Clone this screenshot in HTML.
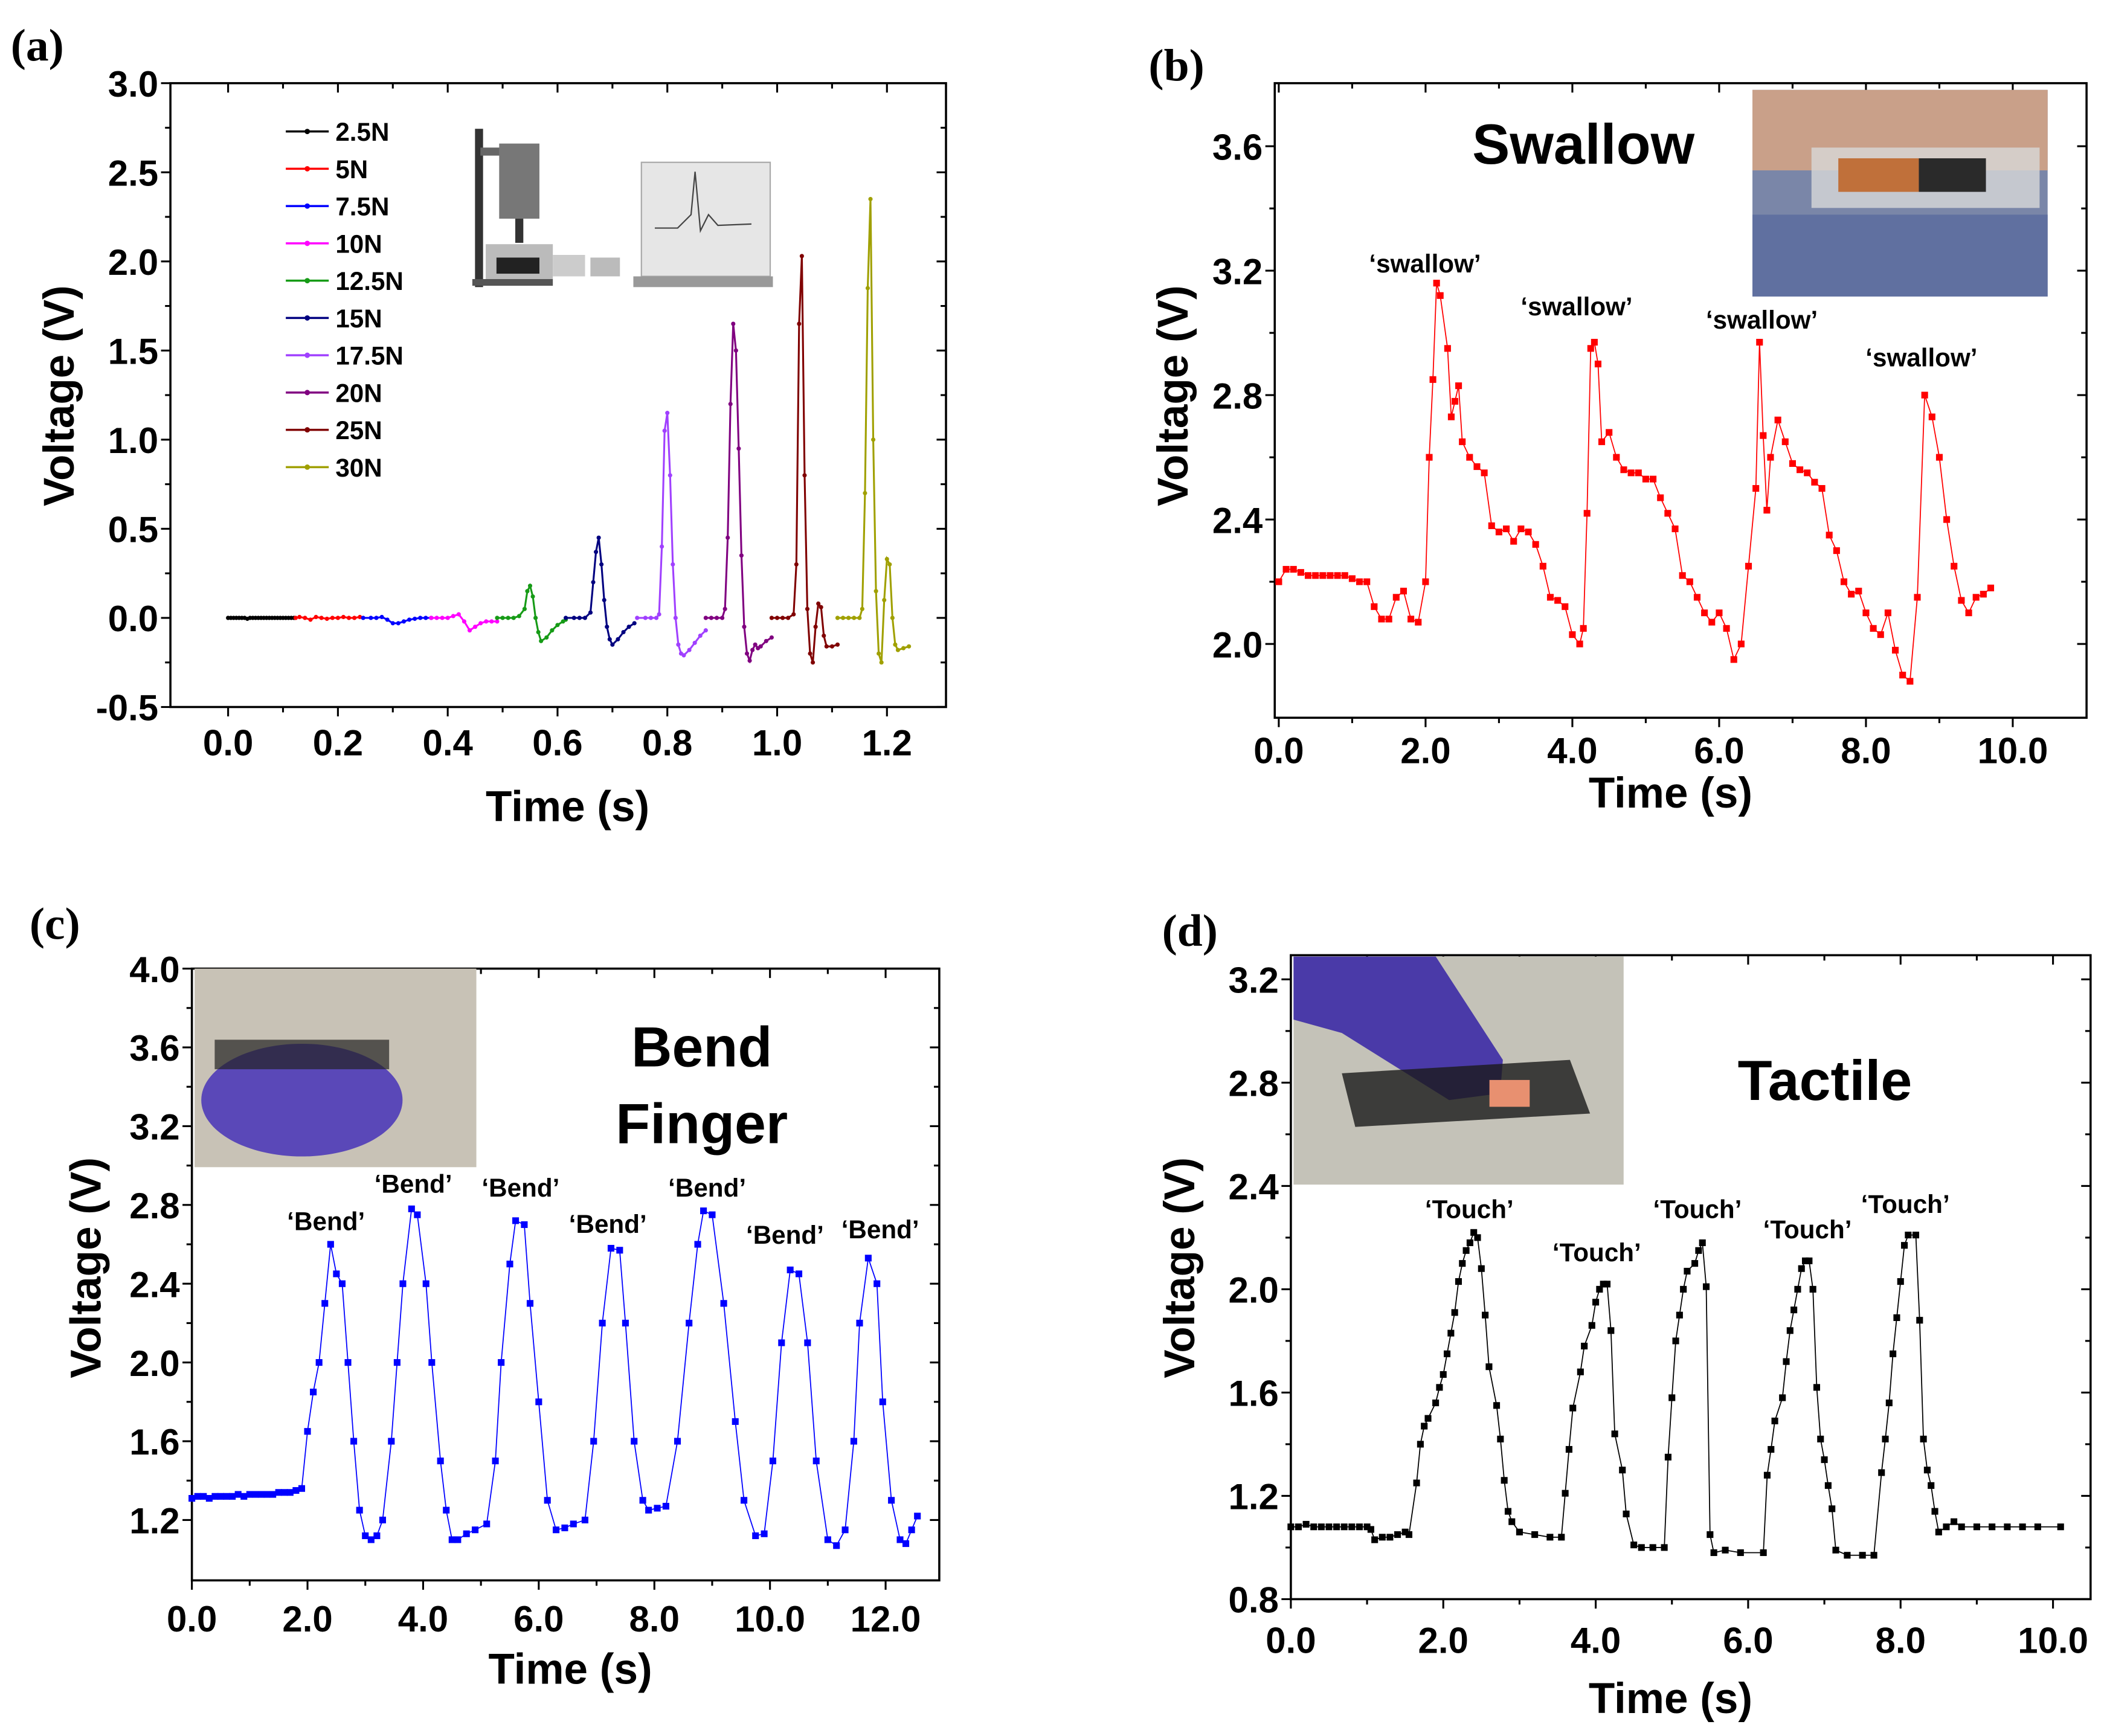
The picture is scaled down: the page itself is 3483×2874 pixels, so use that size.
<!DOCTYPE html>
<html><head><meta charset="utf-8">
<style>
html,body{margin:0;padding:0;background:#fff;}
svg{display:block;}
text{font-family:"Liberation Sans",Arial,sans-serif;font-weight:bold;fill:#000;}
.pl{font-family:"Liberation Serif",serif;font-size:34px;}
.tk{font-size:27px;}
.ti{font-size:32px;}
.an{font-size:19px;}
</style></head>
<body>
<svg id="fig" width="3483" height="2874" viewBox="0 0 1568 1294" preserveAspectRatio="none" xmlns="http://www.w3.org/2000/svg">
<rect width="1568" height="1294" fill="#fff"/>
<g id="root"></g>
</svg>
<script>
// ---------- Panel (a) data ----------
const aNames = ["2.5N","5N","7.5N","10N","12.5N","15N","17.5N","20N","25N","30N"];
const aColors = ["#000000","#ff0000","#0000ff","#ff00ff","#169b16","#000080","#a040ff","#800080","#800000","#a0a000"];
const aT0 = [0,0.005,0.01,0.015,0.02,0.025,0.03,0.035,0.04,0.045,0.05,0.055,0.06,0.065,0.07,0.075,0.08,0.085,0.09,0.095,0.1,0.105,0.11,0.115,0.12];
const aV0 = [0,0,0,0,0,0,0,-0.005,0,0,0,0,0,0,0,0,0,0,0,0,0,0,0,0,0];
const aT1 = [0.123,0.13,0.14,0.15,0.16,0.17,0.18,0.19,0.2,0.21,0.22,0.23,0.24];
const aV1 = [0,0.005,0,-0.01,0.005,0,-0.005,0,0,0.005,0,0,0.005];
const aT2 = [0.246,0.26,0.27,0.28,0.29,0.3,0.31,0.32,0.33,0.34,0.35,0.36,0.37];
const aV2 = [0,0,0,0.005,-0.01,-0.03,-0.03,-0.02,-0.01,-0.005,0,0,0];
const aT3 = [0.37,0.38,0.39,0.4,0.41,0.42,0.43,0.44,0.45,0.46,0.47,0.48,0.49];
const aV3 = [0,0,0,0,0.01,0.02,-0.02,-0.07,-0.05,-0.03,-0.02,-0.02,-0.02];
const aT4 = [0.49,0.5,0.51,0.52,0.53,0.54,0.545,0.55,0.555,0.56,0.565,0.57,0.58,0.59,0.6,0.61,0.615];
const aV4 = [0,0,0,0,0.01,0.05,0.15,0.18,0.12,0.0,-0.08,-0.13,-0.11,-0.07,-0.04,-0.02,-0.01];
const aT5 = [0.615,0.63,0.64,0.65,0.66,0.665,0.67,0.675,0.68,0.685,0.69,0.695,0.7,0.71,0.72,0.73,0.74];
const aV5 = [0,0,0,0,0.03,0.2,0.37,0.45,0.3,0.1,-0.05,-0.12,-0.15,-0.12,-0.08,-0.05,-0.03];
const aT6 = [0.745,0.76,0.77,0.78,0.785,0.79,0.795,0.8,0.805,0.81,0.815,0.82,0.825,0.83,0.84,0.85,0.86,0.87];
const aV6 = [0,0,0,0,0.02,0.4,1.05,1.15,0.8,0.3,0.0,-0.15,-0.2,-0.21,-0.18,-0.14,-0.1,-0.07];
const aT7 = [0.87,0.88,0.89,0.9,0.905,0.91,0.915,0.92,0.925,0.93,0.935,0.94,0.945,0.95,0.955,0.96,0.965,0.97,0.98,0.99];
const aV7 = [0,0,0,0,0.05,0.45,1.2,1.65,1.5,0.95,0.35,-0.05,-0.2,-0.24,-0.18,-0.15,-0.17,-0.16,-0.13,-0.11];
const aT8 = [0.99,1.0,1.01,1.02,1.03,1.035,1.04,1.045,1.05,1.055,1.06,1.065,1.07,1.075,1.08,1.085,1.09,1.1,1.11];
const aV8 = [0,0,0,0,0.02,0.3,1.65,2.03,0.8,0.05,-0.2,-0.25,-0.05,0.08,0.06,-0.1,-0.16,-0.16,-0.15];
const aT9 = [1.11,1.12,1.13,1.14,1.15,1.155,1.16,1.165,1.17,1.175,1.18,1.185,1.19,1.195,1.2,1.205,1.21,1.215,1.22,1.23,1.24];
const aV9 = [0,0,0,0,0,0.05,0.7,1.85,2.35,1.0,0.15,-0.2,-0.25,0.1,0.33,0.3,0.0,-0.15,-0.18,-0.17,-0.16];
const aTs = [aT0,aT1,aT2,aT3,aT4,aT5,aT6,aT7,aT8,aT9];
const aVs = [aV0,aV1,aV2,aV3,aV4,aV5,aV6,aV7,aV8,aV9];
const aXTicks = ["0.0","0.2","0.4","0.6","0.8","1.0","1.2"];
const aYTicks = ["-0.5","0.0","0.5","1.0","1.5","2.0","2.5","3.0"];

// ---------- Panel (b) data ----------
const bT = [0,0.1,0.2,0.3,0.4,0.5,0.6,0.7,0.8,0.9,1.0,1.1,1.2,1.3,1.4,1.5,1.6,1.7,1.8,1.9,2.0,2.05,2.1,2.15,2.2,2.3,2.35,2.4,2.45,2.5,2.6,2.7,2.8,2.9,3.0,3.1,3.2,3.3,3.4,3.5,3.6,3.7,3.8,3.9,4.0,4.1,4.15,4.2,4.25,4.3,4.35,4.4,4.5,4.6,4.7,4.8,4.9,5.0,5.1,5.2,5.3,5.4,5.5,5.6,5.7,5.8,5.9,6.0,6.1,6.2,6.3,6.4,6.5,6.55,6.6,6.65,6.7,6.8,6.9,7.0,7.1,7.2,7.3,7.4,7.5,7.6,7.7,7.8,7.9,8.0,8.1,8.2,8.3,8.4,8.5,8.6,8.7,8.8,8.9,9.0,9.1,9.2,9.3,9.4,9.5,9.6,9.7];
const bV = [2.2,2.24,2.24,2.23,2.22,2.22,2.22,2.22,2.22,2.22,2.21,2.2,2.2,2.12,2.08,2.08,2.15,2.17,2.08,2.07,2.2,2.6,2.85,3.16,3.12,2.95,2.73,2.78,2.83,2.65,2.6,2.57,2.55,2.38,2.36,2.37,2.33,2.37,2.36,2.32,2.25,2.15,2.14,2.12,2.03,2.0,2.05,2.42,2.95,2.97,2.9,2.65,2.68,2.6,2.56,2.55,2.55,2.53,2.53,2.47,2.42,2.37,2.22,2.2,2.15,2.1,2.07,2.1,2.05,1.95,2.0,2.25,2.5,2.97,2.67,2.43,2.6,2.72,2.65,2.58,2.56,2.55,2.52,2.5,2.35,2.3,2.2,2.16,2.17,2.1,2.05,2.03,2.1,1.98,1.9,1.88,2.15,2.8,2.73,2.6,2.4,2.25,2.14,2.1,2.15,2.16,2.18];
const bXTicks = ["0.0","2.0","4.0","6.0","8.0","10.0"];
const bYTicks = ["2.0","2.4","2.8","3.2","3.6"];

// ---------- Panel (c) data ----------
const cT = [0,0.1,0.2,0.3,0.4,0.5,0.6,0.7,0.8,0.9,1.0,1.1,1.2,1.3,1.4,1.5,1.6,1.7,1.8,1.9,2.0,2.1,2.2,2.3,2.4,2.5,2.6,2.7,2.8,2.9,3.0,3.1,3.2,3.3,3.45,3.55,3.65,3.8,3.9,4.05,4.15,4.3,4.4,4.5,4.6,4.75,4.9,5.1,5.25,5.35,5.5,5.6,5.75,5.85,6.0,6.15,6.3,6.45,6.6,6.8,6.95,7.1,7.25,7.4,7.5,7.65,7.8,7.9,8.05,8.2,8.4,8.6,8.75,8.85,9.0,9.2,9.4,9.55,9.75,9.9,10.05,10.2,10.35,10.5,10.65,10.8,11.0,11.15,11.3,11.45,11.55,11.7,11.85,11.95,12.1,12.25,12.35,12.45,12.55];
const cV = [1.31,1.32,1.32,1.31,1.32,1.32,1.32,1.32,1.33,1.32,1.33,1.33,1.33,1.33,1.33,1.34,1.34,1.34,1.35,1.36,1.65,1.85,2.0,2.3,2.6,2.45,2.4,2.0,1.6,1.25,1.12,1.1,1.12,1.2,1.6,2.0,2.4,2.78,2.75,2.4,2.0,1.5,1.25,1.1,1.1,1.13,1.15,1.18,1.5,2.0,2.5,2.72,2.7,2.3,1.8,1.3,1.15,1.16,1.18,1.2,1.6,2.2,2.58,2.57,2.2,1.6,1.3,1.25,1.26,1.27,1.6,2.2,2.6,2.77,2.75,2.3,1.7,1.3,1.12,1.13,1.5,2.1,2.47,2.45,2.1,1.5,1.1,1.07,1.15,1.6,2.2,2.53,2.4,1.8,1.3,1.1,1.08,1.15,1.22];
const cXTicks = ["0.0","2.0","4.0","6.0","8.0","10.0","12.0"];
const cYTicks = ["1.2","1.6","2.0","2.4","2.8","3.2","3.6","4.0"];

// ---------- Panel (d) data ----------
const dT = [0,0.1,0.2,0.3,0.4,0.5,0.6,0.7,0.8,0.9,1.0,1.05,1.1,1.2,1.3,1.4,1.5,1.55,1.65,1.7,1.75,1.8,1.9,1.95,2.0,2.05,2.1,2.15,2.2,2.25,2.3,2.35,2.4,2.45,2.5,2.55,2.6,2.7,2.75,2.8,2.85,2.9,3.0,3.2,3.4,3.55,3.6,3.65,3.7,3.8,3.85,3.95,4.0,4.05,4.1,4.15,4.2,4.25,4.35,4.4,4.5,4.6,4.75,4.9,4.95,5.0,5.05,5.1,5.15,5.2,5.3,5.35,5.4,5.45,5.5,5.55,5.7,5.9,6.2,6.25,6.3,6.35,6.45,6.5,6.55,6.6,6.65,6.7,6.75,6.8,6.85,6.9,6.95,7.0,7.05,7.1,7.15,7.3,7.5,7.65,7.75,7.8,7.85,7.9,7.95,8.0,8.05,8.1,8.2,8.25,8.3,8.35,8.4,8.45,8.5,8.6,8.7,8.8,9.0,9.2,9.4,9.6,9.8,10.1];
const dV = [1.08,1.08,1.09,1.08,1.08,1.08,1.08,1.08,1.08,1.08,1.08,1.07,1.03,1.04,1.04,1.05,1.06,1.05,1.25,1.4,1.47,1.5,1.56,1.62,1.67,1.75,1.83,1.91,2.03,2.1,2.15,2.18,2.22,2.2,2.08,1.9,1.7,1.55,1.42,1.26,1.14,1.1,1.06,1.05,1.04,1.04,1.21,1.38,1.54,1.68,1.78,1.86,1.95,2.0,2.02,2.02,1.84,1.44,1.3,1.13,1.01,1.0,1.0,1.0,1.35,1.58,1.8,1.9,2.0,2.07,2.1,2.15,2.18,2.01,1.05,0.98,0.99,0.98,0.98,1.28,1.38,1.49,1.58,1.72,1.84,1.92,2.0,2.08,2.11,2.11,2.0,1.62,1.42,1.34,1.24,1.15,0.99,0.97,0.97,0.97,1.29,1.42,1.56,1.75,1.89,2.03,2.17,2.21,2.21,1.88,1.42,1.3,1.24,1.14,1.06,1.08,1.1,1.08,1.08,1.08,1.08,1.08,1.08,1.08];
const dXTicks = ["0.0","2.0","4.0","6.0","8.0","10.0"];
const dYTicks = ["0.8","1.2","1.6","2.0","2.4","2.8","3.2"];

const NS = "http://www.w3.org/2000/svg";
const root = document.getElementById("root");
function mk(tag, attrs, parent, txt){
  const e = document.createElementNS(NS, tag);
  for (const k in attrs) e.setAttribute(k, attrs[k]);
  if (txt !== undefined) e.textContent = txt;
  (parent||root).appendChild(e);
  return e;
}
function scale(d0,d1,p0,p1){ return v => p0 + (v-d0)*(p1-p0)/(d1-d0); }

function panel(cfg){
  const g = mk("g", {});
  
  
  const X = scale(cfg.xd[0], cfg.xd[1], cfg.xp[0], cfg.xp[1]);
  const Y = scale(cfg.yd[0], cfg.yd[1], cfg.yp[0], cfg.yp[1]);
  const b = cfg.box;
  const frame = mk("rect", {x:b[0], y:b[1], width:b[2]-b[0], height:b[3]-b[1], fill:"none", stroke:"#000", "stroke-width":1.6}, g);
  
  
  const ticks = mk("g", {stroke:"#000","stroke-width":1.4}, g);
  
  
  cfg.xt.forEach((lab,i)=>{
    const v = parseFloat(lab), px = X(v);
    mk("line",{x1:px,y1:b[3],x2:px,y2:b[3]+7},ticks);
    mk("line",{x1:px,y1:b[1],x2:px,y2:b[1]+7},ticks);
    const t = mk("text",{x:px,y:b[3]+cfg.xlo,"text-anchor":"middle",class:"tk"},g,lab);
    
    
    if (i < cfg.xt.length-1){
      const mv = (v + parseFloat(cfg.xt[i+1]))/2, mp = X(mv);
      mk("line",{x1:mp,y1:b[3],x2:mp,y2:b[3]+4},ticks);
      mk("line",{x1:mp,y1:b[1],x2:mp,y2:b[1]+4},ticks);
    }
  });
  cfg.yt.forEach((lab,i)=>{
    const v = parseFloat(lab), py = Y(v);
    mk("line",{x1:b[0]-7,y1:py,x2:b[0],y2:py},ticks);
    mk("line",{x1:b[2]-7,y1:py,x2:b[2],y2:py},ticks);
    const t = mk("text",{x:b[0]-9,y:py+10,"text-anchor":"end",class:"tk"},g,lab);
    
    
    if (i < cfg.yt.length-1){
      const mp = Y((v + parseFloat(cfg.yt[i+1]))/2);
      mk("line",{x1:b[0]-4,y1:mp,x2:b[0],y2:mp},ticks);
      mk("line",{x1:b[2]-4,y1:mp,x2:b[2],y2:mp},ticks);
    }
  });
  const xt = mk("text",{x:cfg.xtitle[0],y:cfg.xtitle[1],"text-anchor":"middle",class:"ti"},g,"Time (s)");
  
  
  const yt = mk("text",{x:0,y:0,"text-anchor":"middle",class:"ti",transform:`translate(${cfg.ytitle[0]},${cfg.ytitle[1]}) rotate(-90)`},g,"Voltage (V)");
  
  
  const pl = mk("text",{x:cfg.label[0],y:cfg.label[1],class:"pl"},g,cfg.labelText);
  
  
  return {g,X,Y};
}
function series(p, ts, vs, color, marker, ms, nm){
  const sg = mk("g",{},p.g);
  
  
  const pts = ts.map((t,i)=>p.X(t)+","+p.Y(vs[i])).join(" ");
  mk("polyline",{points:pts,fill:"none",stroke:color,"stroke-width":marker==="sq"?0.8:1.4},sg);
  ts.forEach((t,i)=>{
    let m;
    if (marker==="sq") m = mk("rect",{x:p.X(t)-ms/2,y:p.Y(vs[i])-ms/2,width:ms,height:ms,fill:color},sg);
    else m = mk("circle",{cx:p.X(t),cy:p.Y(vs[i]),r:ms,fill:color},sg);
    
    
  });
}

// Panel a
const pa = panel({name:"panel-a-force-chart", xd:[0,1.2], xp:[170,661], yd:[-0.5,3.0], yp:[527,62], box:[127,62,705,527],
  xt:aXTicks, yt:aYTicks, xlo:36, xtitle:[423,612], ytitle:[55,295], label:[8,45], labelText:"(a)"});
aTs.forEach((ts,i)=>series(pa, ts, aVs[i], aColors[i], "c", 1.6, "series-"+aNames[i]));
const leg = mk("g",{},pa.g);


aNames.forEach((n,i)=>{
  const y = 98 + i*27.8;
  const e = mk("g",{},leg);
  
  
  mk("line",{x1:213,y1:y,x2:245,y2:y,stroke:aColors[i],"stroke-width":1.6},e);
  mk("circle",{cx:229,cy:y,r:2,fill:aColors[i]},e);
  mk("text",{x:250,y:y+7,style:"font-size:19px"},e,n);
});
const ia = mk("g",{},pa.g);


mk("rect",{x:354,y:96,width:6,height:118,fill:"#333"},ia);
mk("rect",{x:352,y:208,width:60,height:5,fill:"#555"},ia);
mk("rect",{x:358,y:110,width:16,height:6,fill:"#666"},ia);
mk("rect",{x:372,y:107,width:30,height:56,fill:"#777"},ia);
mk("rect",{x:384,y:163,width:6,height:18,fill:"#333"},ia);
mk("rect",{x:362,y:182,width:50,height:26,fill:"#bbb"},ia);
mk("rect",{x:370,y:192,width:32,height:12,fill:"#222"},ia);
mk("rect",{x:412,y:190,width:24,height:16,fill:"#ccc"},ia);
mk("rect",{x:440,y:192,width:22,height:14,fill:"#bbb"},ia);
mk("rect",{x:478,y:121,width:96,height:85,fill:"#e6e6e6",stroke:"#aaa"},ia);
mk("polyline",{points:"488,170 505,170 515,160 518,128 522,172 528,160 535,168 560,167",fill:"none",stroke:"#444","stroke-width":1},ia);
mk("rect",{x:472,y:206,width:104,height:8,fill:"#999"},ia);

// Panel b
const pb = panel({name:"panel-b-swallow-chart", xd:[0,10], xp:[953,1500], yd:[2.0,3.6], yp:[480,109], box:[950,62,1555,535],
  xt:bXTicks, yt:bYTicks, xlo:34, xtitle:[1245,602], ytitle:[885,295], label:[856,60], labelText:"(b)"});
series(pb, bT, bV, "#ff0000", "sq", 5, "swallow-series");
const ib = mk("g",{},pb.g);


mk("rect",{x:1306,y:67,width:220,height:154,fill:"#7a86a8"},ib);
mk("rect",{x:1306,y:67,width:220,height:60,fill:"#c9a089"},ib);
mk("rect",{x:1350,y:110,width:170,height:45,fill:"#d8d8d8",opacity:0.8},ib);
mk("rect",{x:1370,y:118,width:60,height:25,fill:"#c0703a"},ib);
mk("rect",{x:1430,y:118,width:50,height:25,fill:"#2a2a2a"},ib);
mk("rect",{x:1306,y:160,width:220,height:61,fill:"#6070a0"},ib);
const tb = mk("text",{x:1180,y:122,"text-anchor":"middle",style:"font-size:42px"},pb.g,"Swallow");


[[1062,203],[1175,235],[1313,245],[1432,273]].forEach(a=>{
  const t = mk("text",{x:a[0],y:a[1],"text-anchor":"middle",class:"an"},pb.g,"‘swallow’");
  
  
});

// Panel c
const pc = panel({name:"panel-c-bend-chart", xd:[0,12], xp:[143,660], yd:[1.2,4.0], yp:[1133,722], box:[143,722,700,1178],
  xt:cXTicks, yt:cYTicks, xlo:38, xtitle:[425,1255], ytitle:[75,945], label:[22,700], labelText:"(c)"});
series(pc, cT, cV, "#0000ff", "sq", 5, "bend-series");
const ic = mk("g",{},pc.g);


mk("rect",{x:145,y:722,width:210,height:148,fill:"#c8c2b6"},ic);
mk("ellipse",{cx:225,cy:820,rx:75,ry:42,fill:"#5a48b8"},ic);
mk("rect",{x:160,y:775,width:130,height:22,fill:"#222",opacity:0.7},ic);
const tc1 = mk("text",{x:523,y:795,"text-anchor":"middle",style:"font-size:42px"},pc.g,"Bend");


const tc2 = mk("text",{x:523,y:852,"text-anchor":"middle",style:"font-size:42px"},pc.g,"Finger");


[[243,917],[308,889],[388,892],[453,919],[527,892],[585,927],[656,923]].forEach(a=>{
  const t = mk("text",{x:a[0],y:a[1],"text-anchor":"middle",class:"an"},pc.g,"‘Bend’");
  
  
});

// Panel d
const pd = panel({name:"panel-d-tactile-chart", xd:[0,10], xp:[962,1530], yd:[0.8,3.2], yp:[1192,730], box:[962,712,1558,1192],
  xt:dXTicks, yt:dYTicks, xlo:40, xtitle:[1245,1277], ytitle:[890,945], label:[866,705], labelText:"(d)"});
series(pd, dT, dV, "#000000", "sq", 5, "touch-series");
const id_ = mk("g",{},pd.g);


mk("rect",{x:964,y:713,width:246,height:170,fill:"#c4c2b8"},id_);
mk("polygon",{points:"964,713 1070,713 1120,790 1118,815 1080,820 1000,770 964,760",fill:"#4a3aa8"},id_);
mk("polygon",{points:"1000,800 1170,790 1185,830 1010,840",fill:"#1a1a1a",opacity:0.8},id_);
mk("rect",{x:1110,y:805,width:30,height:20,fill:"#e89070"},id_);
const td = mk("text",{x:1360,y:820,"text-anchor":"middle",style:"font-size:42px"},pd.g,"Tactile");


[[1095,908],[1190,940],[1265,908],[1347,923],[1420,904]].forEach(a=>{
  const t = mk("text",{x:a[0],y:a[1],"text-anchor":"middle",class:"an"},pd.g,"‘Touch’");
  
  
});
</script>
</body></html>
